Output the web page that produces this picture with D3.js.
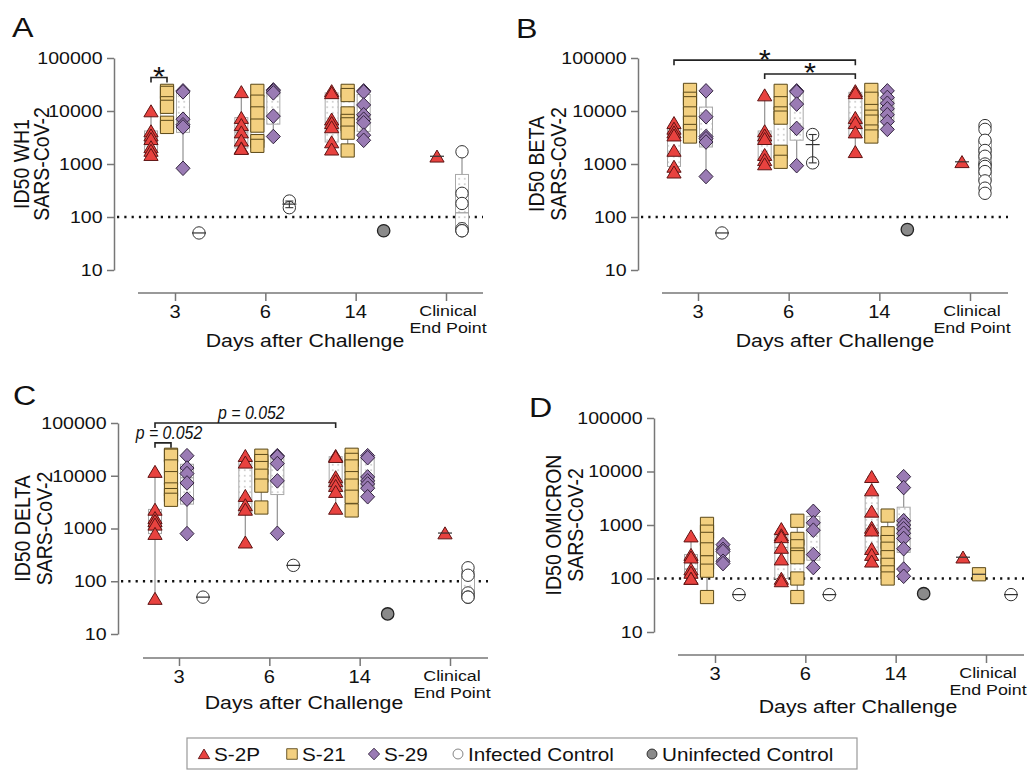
<!DOCTYPE html>
<html><head><meta charset="utf-8">
<script src="https://cdn.jsdelivr.net/npm/d3@7/dist/d3.min.js"></script>
<style>
body{margin:0;background:#fff;}
text{font-family:"Liberation Sans",Arial,Helvetica,sans-serif;fill:#111;}
</style></head><body>
<svg id="c" width="1032" height="771"></svg>
<script>
// ---------------- DATA ----------------
const dayKeys = ["3", "6", "14", "CEP"];
const dayLabels = [["3"], ["6"], ["14"], ["Clinical", "End Point"]];
const groupNames = ["S-2P", "S-21", "S-29", "Infected Control", "Uninfected Control"];
const yTickValues = [10, 100, 1000, 10000, 100000];
const detectionLimit = 100;
const xTitle = "Days after Challenge";

// Panel A: ID50 WH1 (per day: 3, 6, 14, Clinical End Point)
const A_S2P   = [[10000,4200,3500,3000,2100,1800,1500],[23000,7500,5500,4000,2800,2000,1950],[24000,22000,7000,6000,5000,2600,1900],[1400]];
const A_S21   = [[24000,22000,14000,12000,6000,5000],[24000,15000,9000,5300,2700,2200],[24000,20000,9000,6500,5600,3900,1800],[]];
const A_S29   = [[24000,23000,7000,5500,5000,830],[25000,24000,22000,8000,3300],[24000,23000,13000,8500,7000,6000,3500,2800],[]];
const A_INF   = [[50],[200,150],[],[1700,280,180,60,55,55]];
const A_UNINF = [[],[],[55],[]];
const A_BRACKETS = [{from:["3",0], to:["3",1], level:43000, label:"*"}];

// Panel B: ID50 BETA
const B_S2P   = [[6000,4700,4000,3500,1800,900,700],[20000,4200,3500,3000,1500,1200,1000],[24000,22000,7500,6000,4000,1700],[1100]];
const B_S21   = [[25000,17000,14000,9000,6000,4200,3300],[24000,14000,9000,7500,1700,1100],[25000,17000,10000,7800,6300,4100,3300],[]];
const B_S29   = [[24000,7800,3300,3000,2600,580],[24000,23000,13500,4700,930],[24000,18000,14000,11000,8500,6300,4500],[]];
const B_INF   = [[50],[3600,1050],[],[5300,4500,2800,1800,1400,1000,900,720,480,350,280]];
const B_UNINF = [[],[],[58],[]];
const B_BRACKETS = [{from:["3",0], to:["14",0], level:91000, label:"*"},
                    {from:["6",0], to:["14",0], level:50000, label:"*"}];

// Panel C: ID50 DELTA
const C_S2P   = [[12000,2300,1600,1400,1200,800,47],[24000,18000,4200,2800,2300,550],[24000,23000,9500,8000,6500,5000,2400],[820]];
const C_S21   = [[25000,24000,15000,9000,5500,4300,3500],[24000,19000,14000,10000,6500,2500],[25000,20000,15000,9000,6500,4000,2200],[]];
const C_S29   = [[24000,14000,11000,7300,3600,800],[24000,23000,17000,8000,810],[24000,22000,9500,8000,7000,5800,4000],[]];
const C_INF   = [[50],[200],[],[180,130,60,50,50]];
const C_UNINF = [[],[],[24],[]];
const C_BRACKETS = [{from:["3",0], to:["3",1], level:42000, label:"p = 0.052"},
                    {from:["3",0], to:["14",0], level:100000, label:"p = 0.052"}];

// Panel D: ID50 OMICRON
const D_S2P   = [[620,280,250,150,130,100,100],[850,650,600,380,230,100,90],[8000,4500,1800,900,800,360,280,210],[250]];
const D_S21   = [[1050,750,550,350,200,140,45],[1200,550,400,280,250,100,45],[1500,700,480,360,250,180,130,100],[120]];
const D_S29   = [[430,350,320,210,190],[1800,1100,800,280,160],[8000,5000,1200,1000,850,700,560,360,150,110],[]];
const D_INF   = [[50],[50],[],[50]];
const D_UNINF = [[],[],[52],[]];
const D_BRACKETS = [];

// ---------------- LAYOUT ----------------
const SX = 1.15; // horizontal stretch of the reference typography
const defaultOffsets = [-24, -8, 8, 24, 28];
const panels = [
  {letter:"A", title:["ID50 WH1","SARS-CoV-2"], series:[A_S2P,A_S21,A_S29,A_INF,A_UNINF], brackets:A_BRACKETS,
   L:{yAxisX:114, yTop:58, yBot:270, axisY:293, ax0:138, ax1:483, t0:175, t1:446, lx:12, ly:37, tt1:29, tt2:49, xtx:305, xty:347, clin:[-9,null,null,16,null]}},
  {letter:"B", title:["ID50 BETA","SARS-CoV-2"], series:[B_S2P,B_S21,B_S29,B_INF,B_UNINF], brackets:B_BRACKETS,
   L:{yAxisX:638, yTop:58, yBot:270, axisY:293, ax0:662, ax1:1008, t0:698, t1:970, lx:516, ly:38, tt1:544, tt2:566, xtx:835, xty:347, clin:[-8,null,null,15,null]}},
  {letter:"C", title:["ID50 DELTA","SARS-CoV-2"], series:[C_S2P,C_S21,C_S29,C_INF,C_UNINF], brackets:C_BRACKETS,
   L:{yAxisX:118, yTop:423, yBot:634, axisY:658, ax0:143, ax1:488, t0:179, t1:450, lx:13, ly:405, tt1:30, tt2:52, xtx:304, xty:709, clin:[-5,null,null,18,null]}},
  {letter:"D", title:["ID50 OMICRON","SARS-CoV-2"], series:[D_S2P,D_S21,D_S29,D_INF,D_UNINF], brackets:D_BRACKETS,
   L:{yAxisX:654, yTop:418, yBot:632, axisY:655, ax0:678, ax1:1024, t0:715, t1:986, lx:529, ly:417, tt1:561, tt2:583, xtx:858, xty:713, clin:[-23,-7,null,25,null]}}
];

const styles = [
  {shape:"tri",  fill:"#e8423f", stroke:"#5e1414", sw:1.0},
  {shape:"sq",   fill:"#f3d080", stroke:"#5a4818", sw:1.0},
  {shape:"dia",  fill:"#9a7bb4", stroke:"#33243f", sw:1.0},
  {shape:"circ", fill:"#ffffff", stroke:"#333333", sw:1.0},
  {shape:"circ", fill:"#8a8a8a", stroke:"#222222", sw:1.3}
];

function shapePath(shape, k=1){
  if(shape==="tri") return `M0,${-6.2*k}L${7.1*k},${5.8*k}L${-7.1*k},${5.8*k}Z`;
  if(shape==="sq")  return `M${-6.6*k},${-6.6*k}h${13.2*k}v${13.2*k}h${-13.2*k}Z`;
  if(shape==="dia") return `M0,${-7.3*k}L${7*k},0L0,${7.3*k}L${-7*k},0Z`;
  const r=6.2*k; return `M${-r},0a${r},${r} 0 1,0 ${2*r},0a${r},${r} 0 1,0 ${-2*r},0Z`;
}

function txt(g, x, y, s, o={}){
  const t = g.append("text")
    .attr("transform", `translate(${x},${y}) scale(${o.sx ?? SX},1)`)
    .attr("text-anchor", o.anchor || "middle")
    .style("font-size", (o.size || 17) + "px")
    .text(s);
  if(o.italic) t.style("font-style","italic");
  return t;
}

function quant(sorted, p){
  const n = sorted.length; const pos = p*(n+1);
  if(pos <= 1) return sorted[0];
  if(pos >= n) return sorted[n-1];
  const i = Math.floor(pos);
  return sorted[i-1] + (pos-i)*(sorted[i]-sorted[i-1]);
}

const svg = d3.select("#c");
const defs = svg.append("defs");
const pat = defs.append("pattern").attr("id","dots").attr("width",5.5).attr("height",5.5).attr("patternUnits","userSpaceOnUse");
pat.append("rect").attr("width",5.5).attr("height",5.5).attr("fill","#fff");
pat.append("circle").attr("cx",2.75).attr("cy",2.75).attr("r",0.65).attr("fill","#8a8a8a");

panels.forEach(P => {
  const L = P.L;
  const g = svg.append("g");
  const x = d3.scalePoint().domain(dayKeys).range([L.t0, L.t1]);
  const y = d3.scaleLog().domain([10, 100000]).range([L.yBot, L.yTop]);
  const colX = (dayIdx, gi) => {
    const off = dayIdx === 3 ? L.clin[gi] : defaultOffsets[gi];
    return x(dayKeys[dayIdx]) + off;
  };

  // panel letter
  txt(g, L.lx, L.ly, P.letter, {size:28, anchor:"start"});

  // y axis
  const ya = g.append("g").attr("transform", `translate(${L.yAxisX},0)`)
    .call(d3.axisLeft(y).tickValues(yTickValues).tickFormat(d3.format("d")).tickSize(7).tickSizeOuter(0).tickPadding(3));
  ya.selectAll("path,line").attr("stroke","#777").attr("stroke-width",1.5);
  ya.selectAll("text").attr("transform", `scale(${SX},1)`).style("font-size","17px")
    .style("font-family",'"Liberation Sans",Arial,sans-serif').attr("fill","#111");

  // y title
  const cy = (L.yTop + L.yBot)/2;
  [[P.title[0], L.tt1],[P.title[1], L.tt2]].forEach(([s, bx]) => {
    g.append("text").attr("transform", `translate(${bx},${cy}) rotate(-90) scale(1,${SX})`)
      .attr("text-anchor","middle").style("font-size","19.5px").text(s);
  });

  // x axis
  g.append("line").attr("x1",L.ax0).attr("x2",L.ax1).attr("y1",L.axisY).attr("y2",L.axisY)
    .attr("stroke","#777").attr("stroke-width",1.5);
  const xa = g.append("g").attr("transform", `translate(0,${L.axisY})`)
    .call(d3.axisBottom(x).tickSize(8).tickFormat(""));
  xa.select(".domain").remove();
  xa.selectAll("line").attr("stroke","#777").attr("stroke-width",1.5);
  dayKeys.forEach((k, i) => {
    const lab = dayLabels[i];
    if(lab.length === 1) txt(g, x(k), L.axisY + 25, lab[0], {size:17.5});
    else { txt(g, x(k)+2, L.axisY + 23, lab[0], {size:15.5}); txt(g, x(k)+2, L.axisY + 40, lab[1], {size:15.5}); }
  });
  txt(g, L.xtx, L.xty, xTitle, {size:18.5});

  // limit of detection
  g.append("line").attr("x1",L.yAxisX+3).attr("x2",L.ax1).attr("y1",y(detectionLimit)).attr("y2",y(detectionLimit))
    .attr("stroke","#111").attr("stroke-width",2.4).attr("stroke-dasharray","2.2 5.1");

  const boxLayer = g.append("g"), markLayer = g.append("g"), meanLayer = g.append("g");

  P.series.forEach((serie, gi) => {
    const st = styles[gi];
    serie.forEach((vals, di) => {
      if(!vals.length) return;
      const cx = colX(di, gi);
      const s = vals.slice().sort((a,b)=>a-b);
      if(s.length >= 4){
        const q1 = quant(s,0.25), md = quant(s,0.5), q3 = quant(s,0.75);
        const mn = s[0], mx = s[s.length-1];
        boxLayer.append("line").attr("x1",cx).attr("x2",cx).attr("y1",y(mx)).attr("y2",y(mn))
          .attr("stroke","#9a9a9a").attr("stroke-width",1.3);
        [mn, mx].forEach(v => boxLayer.append("line").attr("x1",cx-4).attr("x2",cx+4).attr("y1",y(v)).attr("y2",y(v))
          .attr("stroke","#777").attr("stroke-width",1.2));
        boxLayer.append("rect").attr("x",cx-6.5).attr("width",13).attr("y",y(q3)).attr("height",Math.max(1,y(q1)-y(q3)))
          .attr("fill","url(#dots)").attr("stroke","#a8a8a8").attr("stroke-width",1);
        boxLayer.append("line").attr("x1",cx-6.5).attr("x2",cx+6.5).attr("y1",y(md)).attr("y2",y(md))
          .attr("stroke","#9a9a9a").attr("stroke-width",1.2);
      } else if(gi !== 4){
        const mean = d3.mean(s);
        meanLayer.append("line").attr("x1",cx-7).attr("x2",cx+7).attr("y1",y(mean)).attr("y2",y(mean))
          .attr("stroke","#333").attr("stroke-width",1.2);
        if(s.length > 1){
          const sem = d3.deviation(s)/Math.sqrt(s.length);
          const hi = mean+sem, lo = Math.max(mean-sem, 1);
          meanLayer.append("line").attr("x1",cx).attr("x2",cx).attr("y1",y(hi)).attr("y2",y(lo)).attr("stroke","#333").attr("stroke-width",1.1);
          [hi, lo].forEach(v => meanLayer.append("line").attr("x1",cx-4).attr("x2",cx+4).attr("y1",y(v)).attr("y2",y(v)).attr("stroke","#333").attr("stroke-width",1.1));
        }
      }
      markLayer.selectAll(null).data(vals).enter().append("path")
        .attr("d", shapePath(st.shape))
        .attr("transform", v => `translate(${cx},${y(v)})`)
        .attr("fill", st.fill).attr("stroke", st.stroke).attr("stroke-width", st.sw);
    });
  });

  // significance brackets
  P.brackets.forEach(b => {
    const xa1 = colX(dayKeys.indexOf(b.from[0]), b.from[1]);
    const xa2 = colX(dayKeys.indexOf(b.to[0]), b.to[1]);
    const by = y(b.level);
    g.append("path").attr("d", `M${xa1},${by+5}V${by}H${xa2}V${by+5}`)
      .attr("fill","none").attr("stroke","#222").attr("stroke-width",1.6);
    if(b.label === "*") txt(g, (xa1+xa2)/2, by+8.5, "*", {size:28, sx:1.1});
    else txt(g, (xa1+xa2)/2 + 6, by - 4, b.label, {size:18, italic:true, sx:0.88});
  });
});

// legend
const lg = svg.append("g");
lg.append("rect").attr("x",187).attr("y",738).attr("width",670).attr("height",31)
  .attr("fill","#fff").attr("stroke","#999").attr("stroke-width",1.2);
const legendX = [204, 292, 374, 458, 652];
groupNames.forEach((name, i) => {
  const st = styles[i];
  lg.append("path").attr("d", shapePath(st.shape, 0.8)).attr("transform", `translate(${legendX[i]},754)`)
    .attr("fill", st.fill).attr("stroke", i===3 ? "#777" : st.stroke).attr("stroke-width", 0.9);
  txt(lg, legendX[i] + 10, 761, name, {size:18, anchor:"start"});
});
</script>
</body></html>
